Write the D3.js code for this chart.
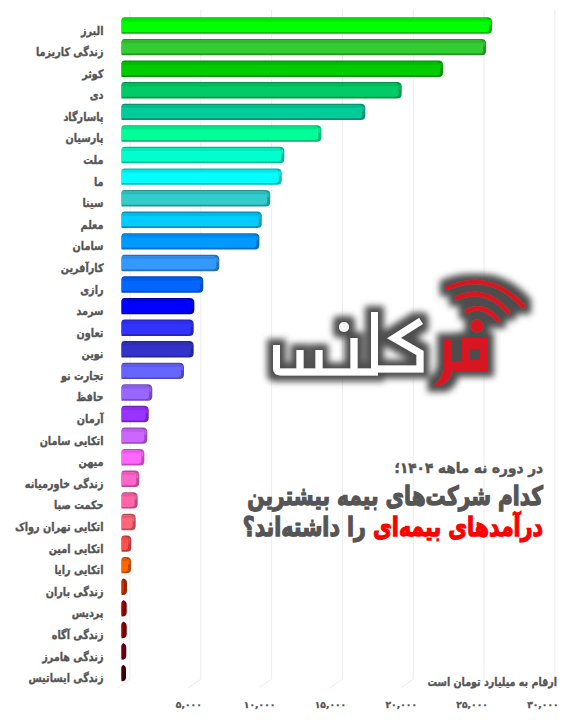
<!DOCTYPE html>
<html lang="fa">
<head>
<meta charset="utf-8">
<style>
html,body{margin:0;padding:0;background:#fff;}
svg{display:block;}
text{font-family:"DejaVu Sans",sans-serif;font-weight:700;}
</style>
<script src="https://cdnjs.cloudflare.com/ajax/libs/d3/7.8.5/d3.min.js"></script>
</head>
<body>
<svg id="c" width="576" height="720"></svg>
<script>
const categories = ["البرز","زندگی کاریزما","کوثر","دی","پاسارگاد","پارسیان","ملت","ما","سینا","معلم","سامان","کارآفرین","رازی","سرمد","تعاون","نوین","تجارت نو","حافظ","آرمان","اتکایی سامان","میهن","زندگی خاورمیانه","حکمت صبا","اتکایی تهران رواک","اتکایی امین","اتکایی رایا","زندگی باران","پردیس","زندگی آگاه","زندگی هامرز","زندگی ایساتیس"];
const values = [25880,25460,22420,19500,16930,13830,11210,11030,10220,9620,9450,6620,5490,4860,4815,4815,4130,1890,1640,1540,1330,975,860,720,410,390,105,85,85,55,35];
const colors = ["#00ff00","#33cc33","#00cc00","#00cc66","#00cc99","#00ff99","#00ffcc","#00ffff","#33cccc","#00ccff","#0099ff","#3399ff","#0066ff","#0000ff","#3333ff","#3333cc","#6666ff","#9966ff","#9933ff","#cc66ff","#ff66ff","#ff66cc","#ff66aa","#ff6677","#ff5050","#ff6600","#cc3300","#aa0000","#990000","#770018","#4d0000"];
const tickValues = [5000,10000,15000,20000,25000,30000];
const titleLead = "در دوره نه ماهه ۱۴۰۴؛";
const titleMain = "کدام شرکت‌های بیمه بیشترین";
const titleRed = "درآمدهای بیمه‌ای";
const titleEnd = " را داشته‌اند؟";
const unitNote = "ارقام به میلیارد تومان است";

const ink = "#555555";
const svg = d3.select("#c");
const x = d3.scaleLinear().domain([0,30000]).range([117.5,542.4]);
const y = d3.scaleBand().domain(categories).range([17.3,681.3]).paddingInner(0.24).paddingOuter(0);
const depth = {dx:12.5, dy:-9};
const floorY = 688;
const toFa = s => s.replace(/\d/g, d => "۰۱۲۳۴۵۶۷۸۹"[d]);

// grid: back wall + floor
const grid = svg.append("g").attr("fill","none").attr("stroke","#ececec").attr("stroke-width",1);
grid.selectAll("path").data([0].concat(tickValues)).join("path")
  .attr("d", d => `M${x(d)},${floorY}L${x(d)+depth.dx},${floorY+depth.dy}V9.5`);

// bars
function shape(x0,x1,y0,y1,r){
  const w = x1-x0, a = Math.min(r,w*0.8), b = Math.min(r+1.5,w*0.9);
  return `M${x0},${y1}V${y0+a}Q${x0},${y0} ${x0+a},${y0}H${x1-b}Q${x1},${y0} ${x1},${y0+b}V${y1-b}Q${x1},${y1} ${x1-b},${y1}Z`;
}
const bars = svg.append("g").selectAll("g").data(categories).join("g");
const left = x(0)+4;
const right = i => x(values[i])+8;
bars.append("path")
  .attr("d",(d,i)=>shape(left,right(i),y(d),y(d)+y.bandwidth(),3))
  .attr("fill",(d,i)=>d3.color(colors[i]).darker(0.9));
bars.append("path")
  .attr("d",(d,i)=>{
    const r = right(i), inner = Math.max(left+0.8, r-3);
    return shape(left,inner,y(d)+1.3,y(d)+y.bandwidth()-1.7,2);
  })
  .attr("fill",(d,i)=>colors[i]);
bars.append("rect")
  .attr("x",left+0.5)
  .attr("y",d=>y(d)+1.6)
  .attr("width",(d,i)=>Math.max(0,right(i)-3-left-1.5))
  .attr("height",2.6)
  .attr("fill",(d,i)=>d3.color(colors[i]).darker(0.28));
bars.append("rect")
  .attr("x",(d,i)=>right(i)-3)
  .attr("y",d=>y(d)+2.5)
  .attr("width",(d,i)=>right(i)-left>9?2:0)
  .attr("height",5)
  .attr("fill",(d,i)=>colors[i])
  .attr("opacity",0.7);

// category labels
svg.append("g").selectAll("text").data(categories).join("text")
  .attr("transform",d=>`translate(103.5,${y(d)+y.bandwidth()/2+9}) scale(0.84,1)`)
  .attr("direction","rtl")
  .attr("text-anchor","start")
  .attr("font-size",11.5)
  .attr("fill",ink)
  .attr("stroke",ink)
  .attr("stroke-width",0.35)
  .text(d=>d);

// value axis
const axis = d3.axisBottom(x).tickValues(tickValues).tickSize(0).tickPadding(0)
  .tickFormat(d=>toFa(d3.format(",")(d)));
const ax = svg.append("g").attr("transform","translate(0,701)").call(axis);
ax.select(".domain").remove();
ax.selectAll("text").attr("font-size",9.2).attr("fill",ink).attr("stroke",ink).attr("stroke-width",0.3).attr("font-family",'"DejaVu Sans",sans-serif').attr("font-weight",700);

// logo
const defs = svg.append("defs");
const f = defs.append("filter").attr("id","halo").attr("x","-15%").attr("y","-25%").attr("width","130%").attr("height","150%");
f.append("feMorphology").attr("in","SourceAlpha").attr("operator","dilate").attr("radius",6).attr("result","d");
f.append("feGaussianBlur").attr("in","d").attr("stdDeviation",3.2).attr("result","b");
f.append("feFlood").attr("flood-color","#4d4d4d");
f.append("feComposite").attr("in2","b").attr("operator","in").attr("result","s");
const m = f.append("feMerge");
m.append("feMergeNode").attr("in","s");
m.append("feMergeNode").attr("in","SourceGraphic");

const logo = svg.append("g").attr("filter","url(#halo)");
const white = logo.append("g").attr("fill","none").attr("stroke","#fff").attr("stroke-width",7).attr("stroke-linejoin","miter");
[
 "M276.5,345V368Q276.5,372 281,372H378",
 "M300,350V372","M319,350V372","M354,338V372","M374.5,312V372",
 "M421,321L394,338L420,353V369H374"
].forEach(d=>white.append("path").attr("d",d));
logo.append("circle").attr("cx",344).attr("cy",327).attr("r",5).attr("fill","#f5f5f5");
const red = "#d71920";
logo.append("path").attr("fill",red).attr("fill-rule","evenodd")
  .attr("d","M443,339H452V361H462V338H488V371H452.5C451,378 447,383 440,386H433C439,381 443,376 443,369ZM470,349V360H480V349Z");
logo.append("circle").attr("cx",477).attr("cy",326).attr("r",6.5).attr("fill",red);
const arcs = logo.append("g").attr("fill","none").attr("stroke",red).attr("stroke-width",4.6).attr("stroke-linecap","round");
["M448,288Q490,270 523,306","M457,298Q486,286 508,312","M467,311Q484,303 498,320"].forEach(d=>arcs.append("path").attr("d",d));

// title block
const tx = 543;
const t = (yy,size,sx,sw)=>svg.append("text").attr("transform",`translate(${tx},${yy}) scale(${sx},1)`).attr("direction","rtl").attr("text-anchor","start").attr("font-size",size).attr("fill",ink).attr("stroke",ink).attr("stroke-width",sw);
t(473,14.5,0.94,0.5).text(titleLead);
t(505,26,0.775,1.3).text(titleMain);
const l3 = t(536,26,0.79,1.3);
l3.append("tspan").attr("fill","#ff0000").attr("stroke","#ff0000").text(titleRed);
l3.append("tspan").text(titleEnd);
svg.append("text").attr("transform","translate(557,686) scale(0.83,1)").attr("direction","rtl").attr("text-anchor","start").attr("font-size",11.5).attr("fill",ink).attr("stroke",ink).attr("stroke-width",0.35).text(unitNote);
</script>
</body>
</html>
